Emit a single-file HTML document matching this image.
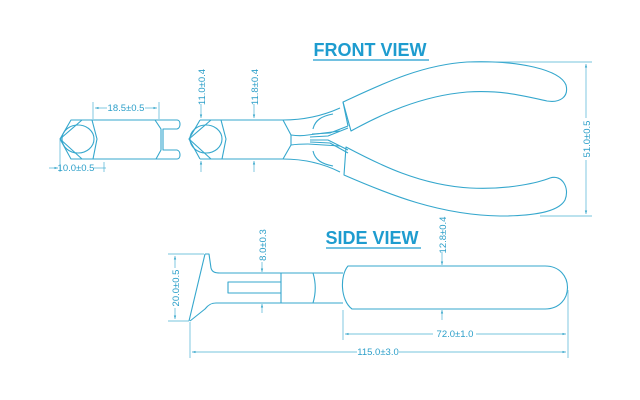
<!DOCTYPE html>
<html><head><meta charset="utf-8"><style>
html,body{margin:0;padding:0;background:#fff;width:640px;height:400px;overflow:hidden}
svg{display:block}
text{font-family:"Liberation Sans",sans-serif;fill:#2c9fc9}
</style></head><body>
<svg width="640" height="400" viewBox="0 0 640 400" xmlns="http://www.w3.org/2000/svg">
<defs>
<marker id="a" viewBox="0 0 6 6" refX="6" refY="3" markerWidth="5" markerHeight="5" orient="auto-start-reverse"><path d="M0,1 L6,3 L0,5z" fill="#3aa8cc"/></marker>
</defs>
<g fill="none" stroke="#35a7cd" stroke-width="1.1" stroke-linejoin="round">
<!-- left head -->
<path d="M71,120 L177,120 C181,120 181,128 177,129 L163,129 L163,150 L177,150 C181,151 181,159 177,159 L71,159 L60,139 Z"/>
<path d="M82,120 L60,139 L82,159"/>
<ellipse cx="78" cy="139" rx="16" ry="14"/>
<path d="M92,120 L97,139 L93,159"/>
<path d="M155,120 L161,129 L161,150 L156,159"/>
<!-- middle head -->
<path d="M200,120 L283,120 C300,120 320,117 340,108"/>
<path d="M200,159 L283,159 C300,159 320,162 340,172"/>
<path d="M200,120 L189,139 L200,159"/>
<path d="M211,120 L189,139 L211,159"/>
<ellipse cx="206" cy="139" rx="16" ry="14"/>
<path d="M221,120 L226,139 L222,159"/>
<path d="M283,120 L291,135 L291,145 L283,159"/>
<path d="M291,135 C298,136 302,136 308,135 M291,145 C298,144 302,144 308,144"/>
<path d="M308,135 L340,131 M308,144 L340,146"/>
<path d="M310,137 L328,136 L348,128 M310,140 L328,140 L348,150 M310,142 L330,143 L348,153 M312,134 L330,133 L348,126"/>
<path d="M313,129 C315,120 322,116 333,114 M313,151 C315,160 322,164 333,166"/>
<!-- upper handle -->
<path d="M343,102 C380,85 420,65 467,62 C520,60 560,70 566,85 C569,97 560,103 547,101 C520,95 500,90 467,92 C420,96 380,115 351,131 Z"/>
<path d="M343,102 L348,126"/>
<!-- lower handle -->
<path d="M346,147 C380,165 420,185 470,188 C510,190 540,182 550,178 C562,174 570,188 565,200 C558,213 530,216 500,216 C440,215 390,195 344,175 Z"/>
<!-- side view -->
<path d="M205,254 L209,254 L211,268 C212,272 215,273 220,273 L343,273"/>
<path d="M190,321 L205,309 C208,305 211,303 216,303 L343,303"/>
<path d="M205,254 L189,321"/>
<path d="M281,282 L228,282 L228,293 L281,293"/>
<path d="M281,273 L281,303"/>
<path d="M313,273 C316,283 316,293 313,303"/>
<path d="M348,266 L545,266 C575,266 575,309 545,309 L352,309 C340,300 340,275 348,266 Z"/>
</g>
<g fill="none" stroke="#4ab0d3" stroke-width="0.7">
<line x1="93" y1="102" x2="93" y2="119"/><line x1="159" y1="102" x2="159" y2="119"/>
<line x1="95" y1="108" x2="107" y2="108" marker-start="url(#a)"/>
<line x1="145" y1="108" x2="157" y2="108" marker-end="url(#a)"/>
<line x1="60" y1="140" x2="60" y2="172"/><line x1="104" y1="162" x2="104" y2="172"/>
<line x1="49" y1="168" x2="58" y2="168" marker-end="url(#a)"/>
<line x1="94" y1="168" x2="106" y2="168"/>
<line x1="201" y1="104" x2="201" y2="118" marker-end="url(#a)"/>
<line x1="201" y1="172" x2="201" y2="161" marker-end="url(#a)"/>
<line x1="254" y1="104" x2="254" y2="118" marker-end="url(#a)"/>
<line x1="254" y1="172" x2="254" y2="161" marker-end="url(#a)"/>
<line x1="470" y1="62" x2="592" y2="62"/><line x1="540" y1="216" x2="592" y2="216"/>
<line x1="586" y1="64" x2="586" y2="118" marker-start="url(#a)"/>
<line x1="586" y1="160" x2="586" y2="214" marker-end="url(#a)"/>
<line x1="168" y1="254" x2="204" y2="254"/><line x1="168" y1="321" x2="189" y2="321"/>
<line x1="175" y1="256" x2="175" y2="268" marker-start="url(#a)"/>
<line x1="175" y1="308" x2="175" y2="319" marker-end="url(#a)"/>
<line x1="262" y1="262" x2="262" y2="272" marker-end="url(#a)"/>
<line x1="262" y1="313" x2="262" y2="304" marker-end="url(#a)"/>
<line x1="442" y1="252" x2="442" y2="265" marker-end="url(#a)"/>
<line x1="442" y1="320" x2="442" y2="310" marker-end="url(#a)"/>
<line x1="343" y1="310" x2="343" y2="340"/><line x1="568" y1="290" x2="568" y2="358"/>
<line x1="190" y1="322" x2="190" y2="358"/>
<line x1="345" y1="334" x2="433" y2="334" marker-start="url(#a)"/>
<line x1="476" y1="334" x2="566" y2="334" marker-end="url(#a)"/>
<line x1="192" y1="352" x2="357" y2="352" marker-start="url(#a)"/>
<line x1="399" y1="352" x2="566" y2="352" marker-end="url(#a)"/>
</g>
<g font-size="9.5">
<text x="126" y="111" text-anchor="middle">18.5±0.5</text>
<text x="76" y="171" text-anchor="middle">10.0±0.5</text>
<text x="455" y="337" text-anchor="middle">72.0±1.0</text>
<text x="378" y="355" text-anchor="middle">115.0±3.0</text>
<text transform="translate(205,87) rotate(-90)" text-anchor="middle">11.0±0.4</text>
<text transform="translate(258,87) rotate(-90)" text-anchor="middle">11.8±0.4</text>
<text transform="translate(590,139) rotate(-90)" text-anchor="middle">51.0±0.5</text>
<text transform="translate(179,288) rotate(-90)" text-anchor="middle">20.0±0.5</text>
<text transform="translate(266,245) rotate(-90)" text-anchor="middle">8.0±0.3</text>
<text transform="translate(446,235) rotate(-90)" text-anchor="middle">12.8±0.4</text>
</g>
<g font-size="18" font-weight="bold">
<text x="370" y="56" text-anchor="middle" style="fill:#1e9ccf">FRONT VIEW</text>
<text x="372" y="244" text-anchor="middle" style="fill:#1e9ccf">SIDE VIEW</text>
</g>
<line x1="313" y1="60" x2="429" y2="60" stroke="#1e9ccf" stroke-width="1.2"/>
<line x1="326" y1="248" x2="421" y2="248" stroke="#1e9ccf" stroke-width="1.2"/>
</svg>
</body></html>
